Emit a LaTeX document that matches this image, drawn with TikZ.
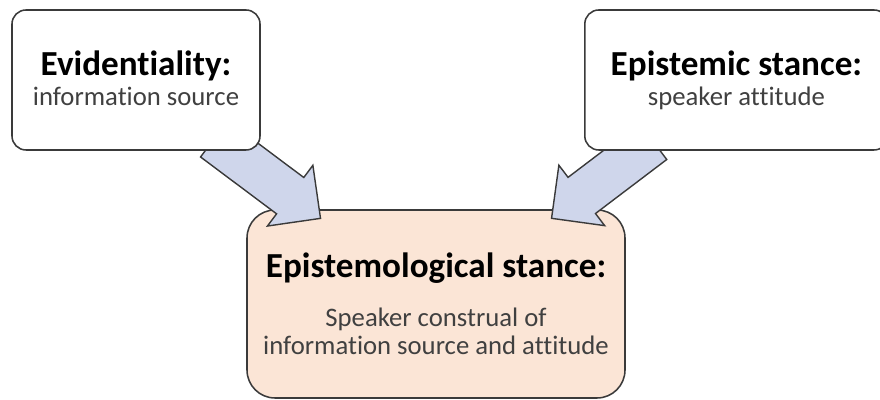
\documentclass[tikz,border=0pt]{standalone}
\usepackage{fontspec}
\setmainfont{Carlito}[Ligatures=NoCommon]
\usetikzlibrary{calc,shapes.arrows}
\definecolor{boxline}{HTML}{3A3A3A}
\definecolor{peach}{HTML}{FBE5D6}
\definecolor{arrowfill}{HTML}{CFD6EB}
\definecolor{subgray}{HTML}{404040}
\begin{document}
\begin{tikzpicture}[
box/.style={draw=boxline, line width=1.1pt, rounded corners=0.35cm, fill=white,
minimum width=6.2cm, minimum height=3.5cm, inner sep=0pt},
mainbox/.style={box, fill=peach, rounded corners=0.7cm,
minimum width=9.45cm, minimum height=4.7cm},
blockarrow/.style={single arrow, draw=boxline, line width=1pt, fill=arrowfill,
inner xsep=0pt, inner ysep=0.55cm, single arrow head extend=0.38cm},
title/.style={font=\fontsize{25}{30}\selectfont\bfseries, text=black, anchor=base},
sub/.style={font=\fontsize{19}{20}\selectfont, text=subgray, anchor=base, align=center}
]
\useasboundingbox (0,0) rectangle (22,10);

\node[mainbox] (stance) at (10.9,2.4) {};

\coordinate (evtail) at (5.34,6.54);
\coordinate (evtip) at (8.0,4.55);
\coordinate (eptail) at (16.34,6.475);
\coordinate (eptip) at (13.8,4.55);
\path let \p1=($(evtip)-(evtail)$) in
  node[blockarrow, anchor=tail, rotate={atan2(\y1,\x1)}, minimum height={veclen(\x1,\y1)}]
  (evarrow) at (evtail) {};
\path let \p1=($(eptip)-(eptail)$) in
  node[blockarrow, anchor=tail, rotate={atan2(\y1,\x1)}, minimum height={veclen(\x1,\y1)}]
  (eparrow) at (eptail) {};

\node[box] (evid) at (3.4,8.0) {};
\node[box, minimum width=7.58cm] (epist) at (18.41,8.0) {};

\node[title] (evidtitle) at (3.4,8.1) {Evidentiality:};
\node[sub] (evidsub) at (3.4,7.35) {information source};
\node[title] (epistitle) at (18.41,8.1) {Epistemic stance:};
\node[sub] (epistsub) at (18.41,7.35) {speaker attitude};
\node[title] (stancetitle) at (10.9,3.05) {Epistemological stance:};
\node[sub] (stancesub) at (10.9,1.125) {Speaker construal of\\information source and attitude};
\end{tikzpicture}
\end{document}
